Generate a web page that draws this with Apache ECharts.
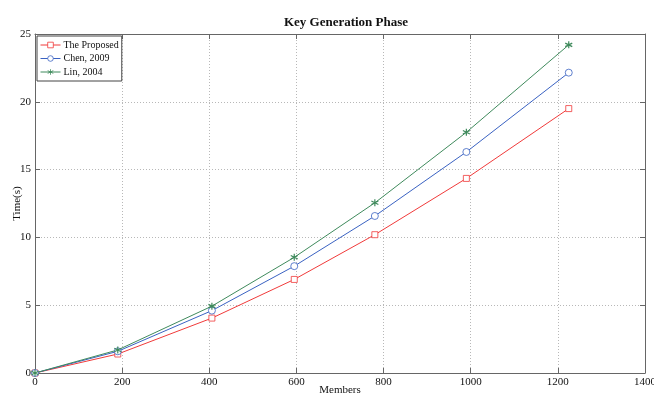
<!DOCTYPE html>
<html>
<head>
<meta charset="utf-8">
<script src="https://cdn.jsdelivr.net/npm/echarts@6/dist/echarts.min.js"></script>
<style>
  html, body { margin: 0; padding: 0; background: #fff; }
  #main { width: 654px; height: 396px; }
</style>
</head>
<body>
<div id="main"></div>
<script>
var members = [0, 190, 406, 595, 780, 990, 1225];
var proposedTimes = [0, 1.4, 4.05, 6.9, 10.2, 14.35, 19.5];
var chenTimes = [0, 1.6, 4.6, 7.88, 11.58, 16.3, 22.15];
var linTimes = [0, 1.7, 4.93, 8.53, 12.55, 17.75, 24.2];
var seriesNames = ['The Proposed', 'Chen, 2009', 'Lin, 2004'];

var fontFam = '"Liberation Serif", "DejaVu Serif", serif';
var starPath = 'path://M0,-5L0,5M-4.33,-2.5L4.33,2.5M-4.33,2.5L4.33,-2.5';

function pairs(xs, ys) {
    var out = [];
    for (var i = 0; i < xs.length; i++) {
        out.push([xs[i], ys[i]]);
    }
    return out;
}

function makeSeries(name, ys, color, symbol, size, bw) {
    return {
        name: name,
        type: 'line',
        data: pairs(members, ys),
        symbol: symbol,
        symbolSize: size,
        showAllSymbol: true,
        lineStyle: { color: color, width: 1 },
        itemStyle: { color: '#fff', borderColor: color, borderWidth: bw },
        emphasis: { disabled: true },
        animation: false
    };
}

function plainNum(v) { return String(v); }

var gridLine = { show: true, lineStyle: { color: '#b8b8b8', type: [1, 2], width: 1 } };
var axLine = { show: true, onZero: false, lineStyle: { color: '#666', width: 1 } };
var inTick = { show: true, inside: true, length: 5, lineStyle: { color: '#666' } };
var lblStyle = { color: '#111', fontFamily: fontFam, fontSize: 11 };

var chart = echarts.init(document.getElementById('main'));
chart.setOption({
    backgroundColor: '#fff',
    title: {
        text: 'Key Generation Phase',
        left: 341, top: 11, textAlign: 'center',
        textStyle: { fontFamily: fontFam, fontSize: 13, fontWeight: 'bold', color: '#111' }
    },
    legend: {
        data: seriesNames,
        orient: 'vertical',
        left: 37, top: 36,
        itemWidth: 20, itemHeight: 7, itemGap: 3.5,
        padding: [4, 3, 4, 3],
        borderColor: '#444', borderWidth: 1,
        backgroundColor: '#fff',
        itemStyle: { borderWidth: 0.8 },
        lineStyle: { width: 1 },
        textStyle: { fontFamily: fontFam, fontSize: 10, color: '#111', padding: [0, 0, 0, -2] }
    },
    grid: { left: 35, right: 9, top: 34, bottom: 23, outerBoundsMode: 'none' },
    xAxis: [{
        type: 'value', min: 0, max: 1400, interval: 200,
        name: 'Members', nameLocation: 'middle', nameGap: 12, nameMoveOverlap: false,
        nameTextStyle: lblStyle,
        axisLine: axLine, axisTick: inTick,
        axisLabel: { color: '#111', fontFamily: fontFam, fontSize: 11, margin: 4, formatter: plainNum },
        splitLine: gridLine
    }, {
        type: 'value', min: 0, max: 1400, interval: 200, position: 'top',
        axisLine: axLine, axisTick: inTick,
        axisLabel: { show: false }, splitLine: { show: false }
    }],
    yAxis: [{
        type: 'value', min: 0, max: 25, interval: 5,
        name: 'Time(s)', nameLocation: 'middle', nameGap: 12, nameMoveOverlap: false,
        nameTextStyle: lblStyle,
        axisLine: axLine, axisTick: inTick,
        axisLabel: { color: '#111', fontFamily: fontFam, fontSize: 11, margin: 4, formatter: plainNum },
        splitLine: gridLine
    }, {
        type: 'value', min: 0, max: 25, interval: 5, position: 'right',
        axisLine: axLine, axisTick: inTick,
        axisLabel: { show: false }, splitLine: { show: false }
    }],
    series: [
        makeSeries(seriesNames[0], proposedTimes, '#f03a3a', 'rect', 6, 0.8),
        makeSeries(seriesNames[1], chenTimes, '#3a62c2', 'circle', 7, 0.8),
        makeSeries(seriesNames[2], linTimes, '#3f8a5c', starPath, 7, 1.2)
    ]
});
</script>
</body>
</html>
